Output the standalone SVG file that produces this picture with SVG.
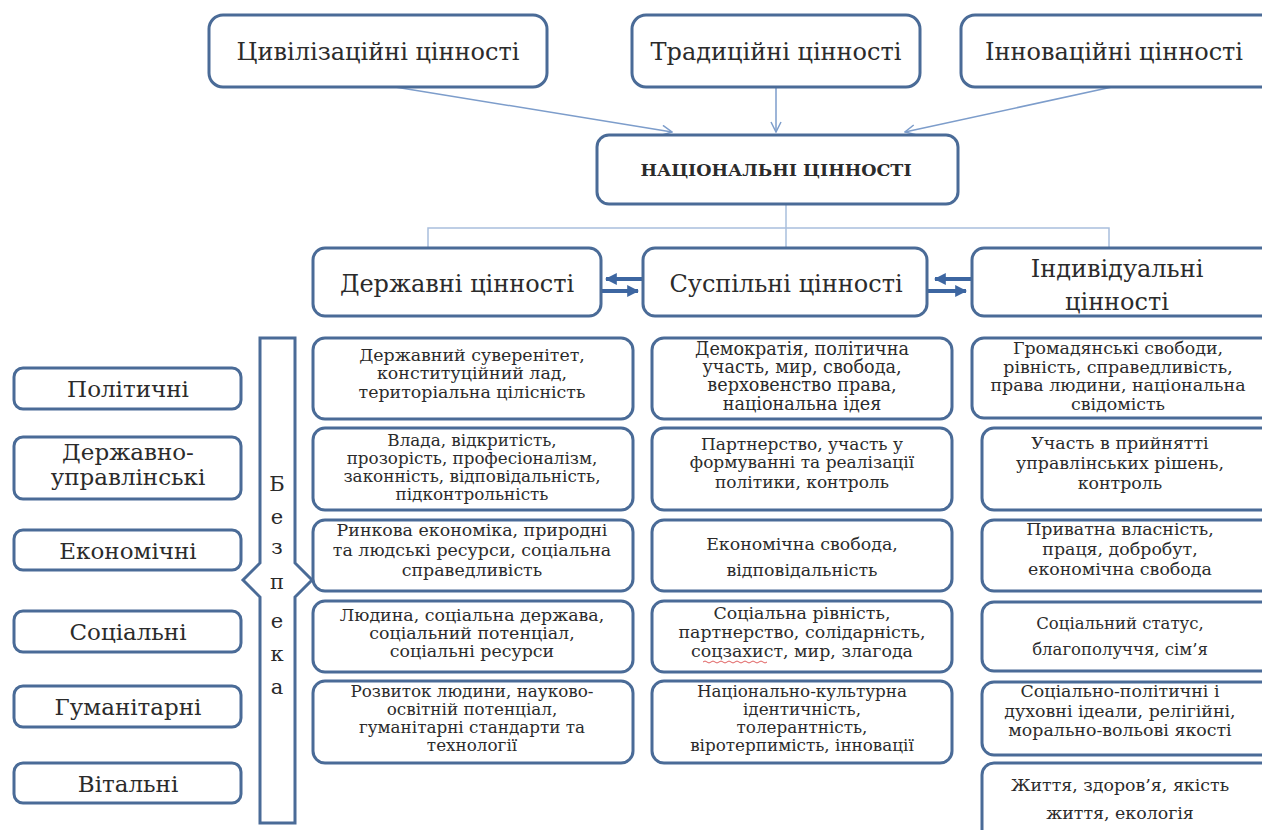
<svg xmlns="http://www.w3.org/2000/svg" width="1262" height="830" viewBox="0 0 1262 830">
<defs>
<style>
.box{fill:#fff;stroke:#4a6b97;stroke-width:3}
.t{font-family:'DejaVu Serif',serif;fill:#2b2b2b;text-anchor:middle}
.h1{font-size:24px}
.h2{font-size:24px}
.lc{font-size:23px}
.s{font-size:17.4px}
.s4{font-size:16.8px}
.ln{fill:none;stroke:#7d9dcb;stroke-width:1.5}
.tr{fill:none;stroke:#a9bfdd;stroke-width:1.5}
.dbl{fill:none;stroke:#3d66a1;stroke-width:4}
</style>
<marker id="open" viewBox="0 0 12 12" refX="11" refY="6" markerWidth="12" markerHeight="12" markerUnits="userSpaceOnUse" orient="auto">
<path d="M1,1 L11,6 L1,11" fill="none" stroke="#7d9dcb" stroke-width="1.5"/>
</marker>
<marker id="solid" viewBox="0 0 10 10" refX="9" refY="5" markerWidth="3" markerHeight="3" orient="auto">
<path d="M0,0 L10,5 L0,10 z" fill="#3d66a1"/>
</marker>
</defs>
<rect width="1262" height="830" fill="#fff"/>

<g id="connectors">
<line class="ln" x1="395" y1="87" x2="672" y2="132" marker-end="url(#open)"/>
<line class="ln" x1="776" y1="87" x2="776" y2="132" marker-end="url(#open)"/>
<line class="ln" x1="1112" y1="87" x2="905" y2="132" marker-end="url(#open)"/>
<polyline class="tr" points="786,204 786,248"/>
<polyline class="tr" points="428,248 428,228 1109,228 1109,248"/>
<line class="dbl" x1="642" y1="279" x2="606" y2="279" marker-end="url(#solid)"/>
<line class="dbl" x1="602" y1="291" x2="638" y2="291" marker-end="url(#solid)"/>
<line class="dbl" x1="971" y1="279" x2="935" y2="279" marker-end="url(#solid)"/>
<line class="dbl" x1="928" y1="291" x2="966" y2="291" marker-end="url(#solid)"/>
</g>

<g id="n-civ"><rect class="box" x="209" y="15" width="338" height="72" rx="14"/><text class="t h1" x="378" y="60">Цивілізаційні цінності</text></g>
<g id="n-trad"><rect class="box" x="632" y="15" width="288" height="72" rx="14"/><text class="t h1" x="776" y="60">Традиційні цінності</text></g>
<g id="n-innov"><rect class="box" x="961" y="15" width="320" height="72" rx="14"/><text class="t h1" x="1114" y="60">Інноваційні цінності</text></g>

<g id="n-nat"><rect class="box" x="597" y="135" width="361" height="69" rx="12"/><text class="t" x="776" y="176" style="font-size:17.5px;font-weight:bold">НАЦІОНАЛЬНІ ЦІННОСТІ</text></g>

<g id="n-state"><rect class="box" x="313" y="248" width="288" height="68" rx="12"/><text class="t h2" x="457" y="292">Державні цінності</text></g>
<g id="n-soc"><rect class="box" x="643" y="248" width="284" height="68" rx="12"/><text class="t h2" x="786" y="292">Суспільні цінності</text></g>
<g id="n-ind"><rect class="box" x="972" y="248" width="310" height="68" rx="12"/><text class="t h2" x="1117" y="277">Індивідуальні</text><text class="t h2" x="1117" y="310">цінності</text></g>

<g id="n-pol"><rect class="box" x="14" y="368" width="227" height="41" rx="9"/><text class="t lc" x="128" y="397">Політичні</text></g>
<g id="n-du"><rect class="box" x="14" y="437" width="227" height="62" rx="9"/><text class="t lc" x="128" y="460">Державно-</text><text class="t lc" x="128" y="485">управлінські</text></g>
<g id="n-eco"><rect class="box" x="14" y="530" width="227" height="40" rx="9"/><text class="t lc" x="128" y="559">Економічні</text></g>
<g id="n-socl"><rect class="box" x="14" y="611" width="227" height="41" rx="9"/><text class="t lc" x="128" y="640">Соціальні</text></g>
<g id="n-hum"><rect class="box" x="14" y="686" width="227" height="41" rx="9"/><text class="t lc" x="128" y="715">Гуманітарні</text></g>
<g id="n-vit"><rect class="box" x="14" y="763" width="227" height="40" rx="9"/><text class="t lc" x="128" y="792">Вітальні</text></g>

<g id="n-sec">
<path class="box" d="M260,338 L295,338 L295,563 L312,580 L295,597 L295,823 L260,823 L260,597 L243,580 L260,563 Z"/>
<g class="t" style="font-size:21px">
<text x="277" y="491">Б</text><text x="277" y="524">е</text><text x="277" y="554">з</text><text x="277" y="589">п</text><text x="277" y="628">е</text><text x="277" y="661">к</text><text x="277" y="694">а</text>
</g>
</g>

<g id="s1"><rect class="box" x="313" y="338" width="320" height="81" rx="12"/><text class="t s"><tspan x="472" y="361">Державний суверенітет,</tspan><tspan x="472" y="379">конституційний лад,</tspan><tspan x="472" y="398">територіальна цілісність</tspan></text></g>
<g id="s2"><rect class="box" x="313" y="428" width="320" height="82" rx="12"/><text class="t s4"><tspan x="472" y="446">Влада, відкритість,</tspan><tspan x="472" y="464">прозорість, професіоналізм,</tspan><tspan x="472" y="482">законність, відповідальність,</tspan><tspan x="472" y="500">підконтрольність</tspan></text></g>
<g id="s3"><rect class="box" x="313" y="520" width="320" height="71" rx="12"/><text class="t s"><tspan x="472" y="536">Ринкова економіка, природні</tspan><tspan x="472" y="556">та людські ресурси, соціальна</tspan><tspan x="472" y="576">справедливість</tspan></text></g>
<g id="s4"><rect class="box" x="313" y="601" width="320" height="71" rx="12"/><text class="t s"><tspan x="472" y="621">Людина, соціальна держава,</tspan><tspan x="472" y="639">соціальний потенціал,</tspan><tspan x="472" y="657">соціальні ресурси</tspan></text></g>
<g id="s5"><rect class="box" x="313" y="681" width="320" height="82" rx="12"/><text class="t s4"><tspan x="472" y="697">Розвиток людини, науково-</tspan><tspan x="472" y="715">освітній потенціал,</tspan><tspan x="472" y="733">гуманітарні стандарти та</tspan><tspan x="472" y="751">технології</tspan></text></g>

<g id="c1"><rect class="box" x="652" y="338" width="300" height="81" rx="12"/><text class="t s" style="font-size:17.6px"><tspan x="802" y="355">Демократія, політична</tspan><tspan x="802" y="373">участь, мир, свобода,</tspan><tspan x="802" y="391">верховенство права,</tspan><tspan x="802" y="410">національна ідея</tspan></text></g>
<g id="c2"><rect class="box" x="652" y="428" width="300" height="82" rx="12"/><text class="t s" style="font-size:17px"><tspan x="802" y="450">Партнерство, участь у</tspan><tspan x="802" y="468">формуванні та реалізації</tspan><tspan x="802" y="488">політики, контроль</tspan></text></g>
<g id="c3"><rect class="box" x="652" y="520" width="300" height="71" rx="12"/><text class="t s"><tspan x="802" y="550">Економічна свобода,</tspan><tspan x="802" y="576">відповідальність</tspan></text></g>
<g id="c4"><rect class="box" x="652" y="601" width="300" height="71" rx="12"/><text class="t s"><tspan x="802" y="619">Соціальна рівність,</tspan><tspan x="802" y="638">партнерство, солідарність,</tspan><tspan x="802" y="657">соцзахист, мир, злагода</tspan></text>
<path d="M703,662 q2,-2 4,0 t4,0 t4,0 t4,0 t4,0 t4,0 t4,0 t4,0 t4,0 t4,0 t4,0 t4,0 t4,0 t4,0 t4,0 t4,0" fill="none" stroke="#e06060" stroke-width="1"/></g>
<g id="c5"><rect class="box" x="652" y="681" width="300" height="82" rx="12"/><text class="t s4"><tspan x="802" y="697">Національно-культурна</tspan><tspan x="802" y="715">ідентичність,</tspan><tspan x="802" y="733">толерантність,</tspan><tspan x="802" y="751">віротерпимість, інновації</tspan></text></g>

<g id="i1"><rect class="box" x="972" y="338" width="310" height="80" rx="12"/><text class="t s" style="font-size:17.4px"><tspan x="1118" y="354">Громадянські свободи,</tspan><tspan x="1118" y="372.5">рівність, справедливість,</tspan><tspan x="1118" y="391">права людини, національна</tspan><tspan x="1118" y="409.5">свідомість</tspan></text></g>
<g id="i2"><rect class="box" x="982" y="428" width="300" height="82" rx="12"/><text class="t s"><tspan x="1120" y="449">Участь в прийнятті</tspan><tspan x="1120" y="469">управлінських рішень,</tspan><tspan x="1120" y="489">контроль</tspan></text></g>
<g id="i3"><rect class="box" x="982" y="520" width="300" height="71" rx="12"/><text class="t s"><tspan x="1120" y="535">Приватна власність,</tspan><tspan x="1120" y="555">праця, добробут,</tspan><tspan x="1120" y="575">економічна свобода</tspan></text></g>
<g id="i4"><rect class="box" x="982" y="602" width="300" height="69" rx="12"/><text class="t s" style="font-size:16.5px"><tspan x="1120" y="629">Соціальний статус,</tspan><tspan x="1120" y="655">благополуччя, сім’я</tspan></text></g>
<g id="i5"><rect class="box" x="982" y="682" width="300" height="73" rx="12"/><text class="t s"><tspan x="1120" y="697">Соціально-політичні і</tspan><tspan x="1120" y="717">духовні ідеали, релігійні,</tspan><tspan x="1120" y="736">морально-вольові якості</tspan></text></g>
<g id="i6"><rect class="box" x="982" y="763" width="300" height="80" rx="12"/><text class="t s"><tspan x="1120" y="791">Життя, здоров’я, якість</tspan><tspan x="1120" y="819">життя, екологія</tspan></text></g>
</svg>
